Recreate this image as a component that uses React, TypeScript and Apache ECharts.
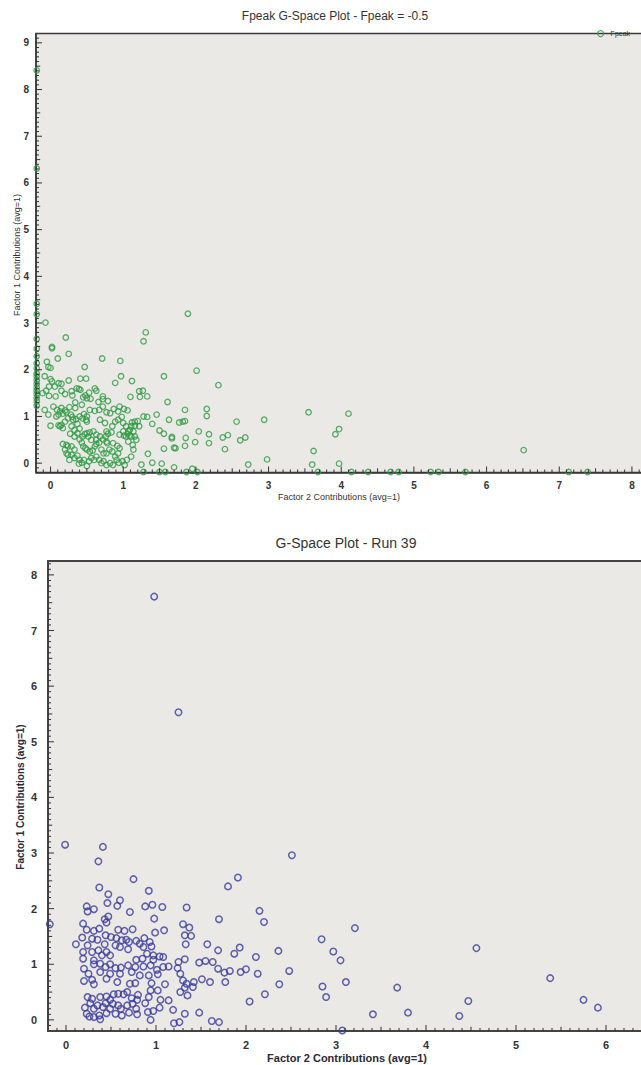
import React, { useEffect, useRef } from "react";
import * as echarts from "echarts";

const TITLE_TOP = "Fpeak G-Space Plot - Fpeak = -0.5";
const TITLE_BOTTOM = "G-Space Plot - Run 39";
const X_NAME = "Factor 2 Contributions (avg=1)";
const Y_NAME = "Factor 1 Contributions (avg=1)";
const LEGEND_NAME = "Fpeak";

const TOP_X_RANGE = [-0.2, 8.4];
const TOP_Y_RANGE = [-0.2, 9.2];
const BOTTOM_X_RANGE = [-0.2, 6.8];
const BOTTOM_Y_RANGE = [-0.2, 8.25];

const FPEAK_POINTS: [number, number][] = [
  [-0.19, 8.41], [-0.19, 6.31], [-0.19, 3.41], [-0.19, 3.19], [-0.19, 2.66], [-0.19, 2.45],
  [-0.19, 2.29], [-0.19, 2.14], [-0.19, 2.03], [-0.19, 1.92], [-0.19, 1.86], [-0.19, 1.78],
  [-0.19, 1.7], [-0.19, 1.62], [-0.19, 1.55], [-0.19, 1.48], [-0.19, 1.4], [-0.19, 1.32], [-0.19, 1.23],
  [1.28, -0.19], [1.5, -0.19], [1.58, -0.19], [1.87, -0.19], [2.02, -0.19], [3.68, -0.19],
  [4.14, -0.19], [4.37, -0.19], [4.68, -0.19], [4.79, -0.19], [5.23, -0.19], [5.34, -0.19],
  [5.71, -0.19], [7.13, -0.19], [7.39, -0.19],
  [1.89, 3.2], [1.31, 2.8], [1.28, 2.61], [-0.07, 3.01], [0.21, 2.69], [0.02, 2.49], [0.02, 2.46],
  [0.25, 2.34], [0.1, 2.24], [0.71, 2.24], [0.96, 2.19], [-0.05, 2.17], [-0.03, 2.06], [0.0, 2.04],
  [0.47, 2.06], [2.01, 1.98], [-0.08, 1.86], [0.97, 1.86], [0.0, 1.8], [0.02, 1.75], [0.25, 1.77],
  [0.41, 1.81], [0.49, 1.81], [1.56, 1.86], [0.89, 1.72], [1.12, 1.76], [2.31, 1.67],
  [-0.02, 1.64], [0.06, 1.64], [0.11, 1.71], [0.15, 1.7], [-0.06, 1.55], [-0.02, 1.44], [0.07, 1.43],
  [-0.11, 1.5], [0.29, 1.54], [0.39, 1.59], [0.36, 1.6], [0.41, 1.57], [0.61, 1.6], [0.63, 1.55],
  [0.53, 1.51], [0.72, 1.43], [0.72, 1.37], [0.66, 1.31], [0.79, 1.33], [0.48, 1.45], [0.5, 1.39],
  [1.22, 1.54], [1.27, 1.55], [1.23, 1.42], [1.33, 1.43], [1.1, 1.42], [1.61, 1.31], [0.95, 1.21],
  [1.01, 1.16], [1.06, 1.13], [1.85, 1.14], [2.15, 1.16], [2.15, 1.01], [3.55, 1.09], [1.46, 1.04],
  [1.28, 1.0], [1.33, 0.99], [1.63, 0.93], [1.77, 0.87], [1.82, 0.89], [1.85, 0.9], [2.56, 0.89],
  [2.94, 0.93], [1.4, 0.84], [1.12, 0.87], [1.16, 0.89], [1.2, 0.9], [1.11, 0.79], [1.5, 0.7],
  [1.56, 0.63], [1.67, 0.56], [1.67, 0.53], [2.04, 0.68], [2.18, 0.62], [2.37, 0.55], [2.44, 0.6],
  [2.68, 0.55], [2.61, 0.49], [1.86, 0.54], [1.99, 0.45], [2.18, 0.43], [1.85, 0.37], [2.4, 0.3],
  [1.56, 0.31], [1.7, 0.33], [1.72, 0.32], [3.62, 0.26], [2.98, 0.08], [3.6, -0.03], [2.72, -0.03],
  [1.95, -0.12], [1.7, -0.09], [1.53, -0.01], [1.4, 0.01], [1.34, 0.2], [1.25, -0.03],
  [4.1, 1.06], [3.97, 0.73], [3.92, 0.62], [3.97, -0.01], [6.51, 0.28],
  [0.04, 1.21], [0.09, 1.14], [0.13, 1.11], [0.17, 1.06], [0.22, 1.09], [0.28, 1.04], [0.3, 0.99],
  [0.35, 0.94], [0.4, 1.0], [0.08, 1.0], [0.11, 1.04], [0.15, 1.18], [0.2, 1.13], [0.24, 0.96],
  [0.31, 0.93], [0.37, 0.84], [0.29, 0.79], [0.33, 0.71], [0.4, 0.74], [0.46, 1.05], [0.5, 1.0],
  [0.5, 0.89], [0.49, 0.93], [0.54, 1.14], [0.61, 1.12], [0.67, 1.14], [0.72, 1.21], [0.77, 1.09],
  [0.82, 1.07], [0.87, 1.16], [0.93, 1.11], [0.89, 0.89], [0.85, 0.79], [0.93, 0.93], [0.98, 0.99],
  [1.0, 0.86], [1.04, 0.79], [1.07, 0.68], [1.04, 0.57], [1.01, 0.59], [1.09, 0.71], [1.09, 0.59],
  [1.14, 0.68], [1.11, 0.57], [1.16, 0.57], [1.18, 0.5], [1.07, 0.46], [1.13, 0.39], [1.14, 0.29],
  [1.11, 0.14], [1.05, 0.07], [1.02, -0.04], [0.99, 0.04], [0.94, 0.01], [0.91, 0.07], [0.86, -0.04],
  [0.82, 0.0], [0.77, -0.04], [0.73, 0.04], [0.7, 0.0], [0.67, 0.07], [0.63, 0.14], [0.6, 0.07],
  [0.56, 0.11], [0.53, 0.04], [0.5, -0.06], [0.46, 0.07], [0.43, 0.01], [0.39, -0.01], [0.4, 0.07],
  [0.37, 0.16], [0.33, 0.11], [0.29, 0.18], [0.26, 0.07], [0.24, 0.18], [0.22, 0.21], [0.2, 0.29],
  [0.17, 0.41], [0.22, 0.39], [0.24, 0.36], [0.29, 0.36], [0.33, 0.29], [0.43, 0.44], [0.45, 0.36],
  [0.48, 0.32], [0.5, 0.29], [0.54, 0.25], [0.58, 0.27], [0.61, 0.36], [0.63, 0.41], [0.67, 0.44],
  [0.7, 0.29], [0.73, 0.21], [0.77, 0.21], [0.81, 0.29], [0.85, 0.25], [0.89, 0.14], [0.93, 0.21],
  [0.95, 0.32], [0.92, 0.37], [0.86, 0.43], [0.78, 0.43], [0.77, 0.46], [0.72, 0.51], [0.76, 0.57],
  [0.79, 0.63], [0.68, 0.57], [0.63, 0.61], [0.59, 0.68], [0.54, 0.66], [0.52, 0.57], [0.47, 0.62],
  [0.44, 0.57], [0.4, 0.51], [0.33, 0.57], [0.27, 0.63], [0.15, 0.82], [0.13, 0.79], [0.11, 0.81],
  [0.17, 0.75], [0.2, 0.89], [0.34, 1.18], [0.43, 1.25], [0.37, 0.64], [0.44, 0.96], [0.5, 0.64],
  [0.56, 0.5], [0.63, 0.5], [0.68, 0.93], [0.75, 0.86], [0.77, 0.68], [0.84, 0.66], [0.95, 0.61],
  [1.0, 0.68], [1.06, 0.63], [1.16, 0.8], [1.22, 0.79], [-0.03, 1.04], [-0.08, 1.14], [0.0, 0.8],
  [0.45, 1.41], [0.55, 1.38], [0.3, 1.45], [0.2, 1.48], [0.15, 1.55], [0.34, 1.3], [0.26, 1.2],
];

const RUN39_POINTS: [number, number][] = [
  [0.98, 7.61], [1.25, 5.53], [-0.01, 3.15], [0.41, 3.11], [0.36, 2.85], [2.51, 2.96], [0.75, 2.53],
  [1.91, 2.56], [1.8, 2.4], [0.37, 2.38], [0.92, 2.32], [0.47, 2.26], [0.6, 2.15], [0.46, 2.1],
  [0.23, 2.04], [0.57, 2.05], [0.88, 2.04], [0.96, 2.07], [1.07, 2.03], [0.31, 1.99], [0.24, 1.95],
  [0.71, 1.94], [1.34, 2.02], [2.15, 1.96], [0.47, 1.86], [0.98, 1.82], [1.7, 1.81], [0.43, 1.81],
  [0.45, 1.75], [2.2, 1.76], [-0.18, 1.72], [0.19, 1.73], [1.3, 1.72], [1.37, 1.66], [0.23, 1.62],
  [0.31, 1.6], [0.37, 1.64], [0.58, 1.62], [0.65, 1.6], [0.74, 1.63], [0.99, 1.57], [1.09, 1.61],
  [1.32, 1.52], [1.39, 1.51], [0.18, 1.48], [0.29, 1.46], [0.35, 1.44], [0.44, 1.52], [0.5, 1.49],
  [0.56, 1.47], [0.62, 1.43], [0.67, 1.44], [0.7, 1.4], [0.78, 1.42], [0.82, 1.37], [0.87, 1.47],
  [0.93, 1.4], [0.11, 1.36], [0.24, 1.34], [0.43, 1.36], [0.55, 1.34], [0.6, 1.31], [0.69, 1.27],
  [0.86, 1.31], [0.95, 1.32], [1.33, 1.36], [1.57, 1.36], [1.93, 1.3], [2.84, 1.45], [2.36, 1.24],
  [1.69, 1.25], [1.87, 1.19], [2.11, 1.13], [0.19, 1.22], [0.29, 1.22], [0.36, 1.25], [0.45, 1.22],
  [0.19, 1.1], [0.31, 1.07], [0.4, 1.16], [0.49, 1.16], [0.9, 1.19], [0.97, 1.16], [1.04, 1.14],
  [1.08, 1.13], [0.78, 1.08], [0.85, 1.1], [0.97, 1.08], [1.25, 1.04], [1.32, 1.09], [1.48, 1.03],
  [1.55, 1.06], [1.63, 1.04], [0.2, 0.92], [0.31, 1.0], [0.38, 1.01], [0.44, 0.95], [0.49, 1.0],
  [0.55, 0.93], [0.61, 0.94], [0.69, 0.98], [0.77, 0.95], [0.86, 0.96], [0.94, 0.98], [1.01, 0.9],
  [1.08, 0.95], [1.14, 0.96], [1.24, 0.93], [1.69, 0.92], [1.82, 0.88], [1.76, 0.85], [1.94, 0.86],
  [2.0, 0.91], [2.13, 0.83], [2.48, 0.88], [0.25, 0.83], [0.38, 0.86], [0.49, 0.83], [0.6, 0.83],
  [0.73, 0.86], [0.82, 0.8], [0.92, 0.8], [1.02, 0.82], [1.27, 0.83], [0.2, 0.7], [0.29, 0.72],
  [0.45, 0.74], [0.57, 0.68], [0.71, 0.65], [0.77, 0.66], [0.95, 0.66], [1.1, 0.64], [1.3, 0.71],
  [1.34, 0.65], [1.42, 0.68], [1.51, 0.73], [1.6, 0.68], [1.77, 0.68], [2.37, 0.64], [2.85, 0.6],
  [0.31, 0.64], [1.32, 0.58], [1.41, 0.59], [0.94, 0.53], [1.02, 0.53], [0.68, 0.5], [0.64, 0.46],
  [0.58, 0.47], [0.8, 0.45], [0.92, 0.41], [1.27, 0.5], [1.35, 0.44], [2.21, 0.46], [2.89, 0.41],
  [0.24, 0.41], [0.29, 0.38], [0.38, 0.41], [0.45, 0.42], [0.49, 0.36], [0.53, 0.46], [0.73, 0.39],
  [0.79, 0.36], [1.05, 0.36], [1.14, 0.35], [2.04, 0.33], [0.27, 0.3], [0.35, 0.26], [0.44, 0.3],
  [0.52, 0.29], [0.58, 0.26], [0.68, 0.26], [0.74, 0.29], [0.88, 0.3], [0.21, 0.22], [0.31, 0.2],
  [0.41, 0.23], [0.49, 0.2], [0.61, 0.2], [0.78, 0.2], [1.04, 0.22], [1.19, 0.18], [0.23, 0.11],
  [0.31, 0.05], [0.37, 0.08], [0.45, 0.12], [0.55, 0.11], [0.62, 0.08], [0.7, 0.13], [0.79, 0.1],
  [0.91, 0.14], [0.97, 0.16], [1.32, 0.11], [1.48, 0.13], [0.26, 0.06], [0.38, 0.01], [0.94, 0.0],
  [1.2, -0.06], [1.26, -0.04], [1.62, -0.02], [1.7, -0.04],
  [3.21, 1.65], [2.97, 1.23], [3.05, 1.07], [4.56, 1.29], [3.11, 0.68], [3.68, 0.58], [4.47, 0.34],
  [5.38, 0.75], [5.75, 0.36], [5.91, 0.22], [3.41, 0.1], [3.8, 0.13], [4.37, 0.07], [3.07, -0.19],
];

const FONT = "'Liberation Sans', Arial, sans-serif";
const GREEN = "#2f9a45";
const BLUE = "#3a3a9e";
const PLOT_BG = "#ebe9e5";

// tick positions every 0.1 within an axis range (axis furniture, not data)
function tickValues(range: number[]): number[] {
  const out: number[] = [];
  for (let i = Math.ceil(range[0] * 10 + 1e-9); i <= Math.floor(range[1] * 10 - 1e-9); i++) {
    if (i !== Math.round(range[0] * 10)) out.push(i / 10);
  }
  return out;
}

function tickLen(v: number, major: number): number {
  const t = Math.round(v * 10);
  if (t % 10 === 0) return major;
  if (t % 5 === 0) return major * 0.7;
  return major * 0.5;
}

function integerLabel(v: number): string {
  return Math.abs(v - Math.round(v)) < 1e-6 ? String(Math.round(v)) : "";
}

function valueAxis(grid: number, range: number[], splitNumber: number, fontSize: number, margin: number, lineColor: string, lineWidth: number) {
  return {
    type: "value",
    gridIndex: grid,
    min: range[0],
    max: range[1],
    splitNumber,
    minInterval: 1,
    maxInterval: 1,
    axisLine: { show: true, onZero: false, lineStyle: { color: lineColor, width: lineWidth } },
    splitLine: { show: false },
    axisTick: { show: false },
    axisLabel: {
      show: true,
      showMinLabel: false,
      showMaxLabel: false,
      formatter: integerLabel,
      margin,
      fontSize,
      fontWeight: "bold",
      fontFamily: FONT,
      color: "#333",
    },
  };
}

function tickSeries(axisIdx: number, dir: "x" | "y", range: number[], other: number[], major: number, color: string) {
  return {
    type: "custom",
    xAxisIndex: axisIdx,
    yAxisIndex: axisIdx,
    silent: true,
    clip: false,
    z: 5,
    data: tickValues(range).map((v) => [v, 0]),
    renderItem: (_params: any, api: any) => {
      const v = api.value(0);
      const len = tickLen(v, major);
      if (dir === "x") {
        const p = api.coord([v, other[0]]);
        return { type: "line", shape: { x1: p[0], y1: p[1], x2: p[0], y2: p[1] - len }, style: { stroke: color, lineWidth: 1 } };
      }
      const p = api.coord([other[0], v]);
      return { type: "line", shape: { x1: p[0], y1: p[1], x2: p[0] + len, y2: p[1] }, style: { stroke: color, lineWidth: 1 } };
    },
  };
}

export default function App() {
  const ref = useRef<HTMLDivElement>(null);
  useEffect(() => {
    if (!ref.current) return;
    const chart = echarts.init(ref.current, undefined, { renderer: "svg" });
    const option: any = {
      animation: false,
      backgroundColor: "#ffffff",
      grid: [
        { left: 36, top: 33.5, width: 625, height: 439, show: true, backgroundColor: PLOT_BG, borderColor: "#3a3a3a", borderWidth: 1.5 },
        { left: 48, top: 561, width: 630, height: 470, show: true, backgroundColor: PLOT_BG, borderColor: "#444", borderWidth: 2 },
      ],
      xAxis: [
        valueAxis(0, TOP_X_RANGE, 9, 10, 8, "#3a3a3a", 1.5),
        valueAxis(1, BOTTOM_X_RANGE, 7, 11, 8, "#444", 2),
      ],
      yAxis: [
        valueAxis(0, TOP_Y_RANGE, 10, 10, 7, "#3a3a3a", 1.5),
        valueAxis(1, BOTTOM_Y_RANGE, 9, 11, 11, "#444", 2),
      ],
      legend: {
        data: [LEGEND_NAME],
        left: 592,
        top: 25,
        itemWidth: 6,
        itemHeight: 6,
        itemGap: 3,
        icon: "circle",
        itemStyle: { color: "transparent", borderColor: GREEN, borderWidth: 1.2 },
        textStyle: { fontSize: 7, fontFamily: FONT, color: "#333", padding: [0, 0, 0, 2] },
      },
      graphic: [
        { type: "text", x: 335, y: 16, style: { text: TITLE_TOP, fill: "#333", font: `12px ${FONT}`, textAlign: "center", textVerticalAlign: "middle", align: "center", verticalAlign: "middle" } },
        { type: "text", x: 339, y: 497, style: { text: X_NAME, fill: "#333", font: `9px ${FONT}`, textAlign: "center", textVerticalAlign: "middle", align: "center", verticalAlign: "middle" } },
        { type: "text", x: 16.5, y: 255, rotation: Math.PI / 2, style: { text: Y_NAME, fill: "#333", font: `9px ${FONT}`, textAlign: "center", textVerticalAlign: "middle", align: "center", verticalAlign: "middle" } },
        { type: "text", x: 346, y: 542.5, style: { text: TITLE_BOTTOM, fill: "#333", font: `14px ${FONT}`, textAlign: "center", textVerticalAlign: "middle", align: "center", verticalAlign: "middle" } },
        { type: "text", x: 347, y: 1058, style: { text: X_NAME, fill: "#2a2a3a", font: `bold 11px ${FONT}`, textAlign: "center", textVerticalAlign: "middle", align: "center", verticalAlign: "middle" } },
        { type: "text", x: 20, y: 797, rotation: Math.PI / 2, style: { text: Y_NAME, fill: "#2a2a3a", font: `bold 10px ${FONT}`, textAlign: "center", textVerticalAlign: "middle", align: "center", verticalAlign: "middle" } },
      ],
      series: [
        tickSeries(0, "x", TOP_X_RANGE, TOP_Y_RANGE, 6, "#333"),
        tickSeries(0, "y", TOP_Y_RANGE, TOP_X_RANGE, 6, "#333"),
        tickSeries(1, "x", BOTTOM_X_RANGE, BOTTOM_Y_RANGE, 6, "#333"),
        tickSeries(1, "y", BOTTOM_Y_RANGE, BOTTOM_X_RANGE, 6, "#333"),
        {
          type: "scatter",
          name: LEGEND_NAME,
          xAxisIndex: 0,
          yAxisIndex: 0,
          data: FPEAK_POINTS,
          symbol: "circle",
          symbolSize: 5.5,
          clip: false,
          z: 3,
          itemStyle: { color: "transparent", borderColor: GREEN, borderWidth: 1.3 },
          emphasis: { disabled: true },
        },
        {
          type: "scatter",
          name: "Run 39",
          xAxisIndex: 1,
          yAxisIndex: 1,
          data: RUN39_POINTS,
          symbol: "circle",
          symbolSize: 6.5,
          clip: false,
          z: 3,
          itemStyle: { color: "transparent", borderColor: BLUE, borderWidth: 1.5 },
          emphasis: { disabled: true },
        },
      ],
    };
    chart.setOption(option);
    return () => chart.dispose();
  }, []);
  return (
    <div style={{ position: "absolute", left: 0, top: 0, width: 641, height: 1065, overflow: "hidden", background: "#fff" }}>
      <div ref={ref} style={{ width: 700, height: 1065 }} />
    </div>
  );
}
